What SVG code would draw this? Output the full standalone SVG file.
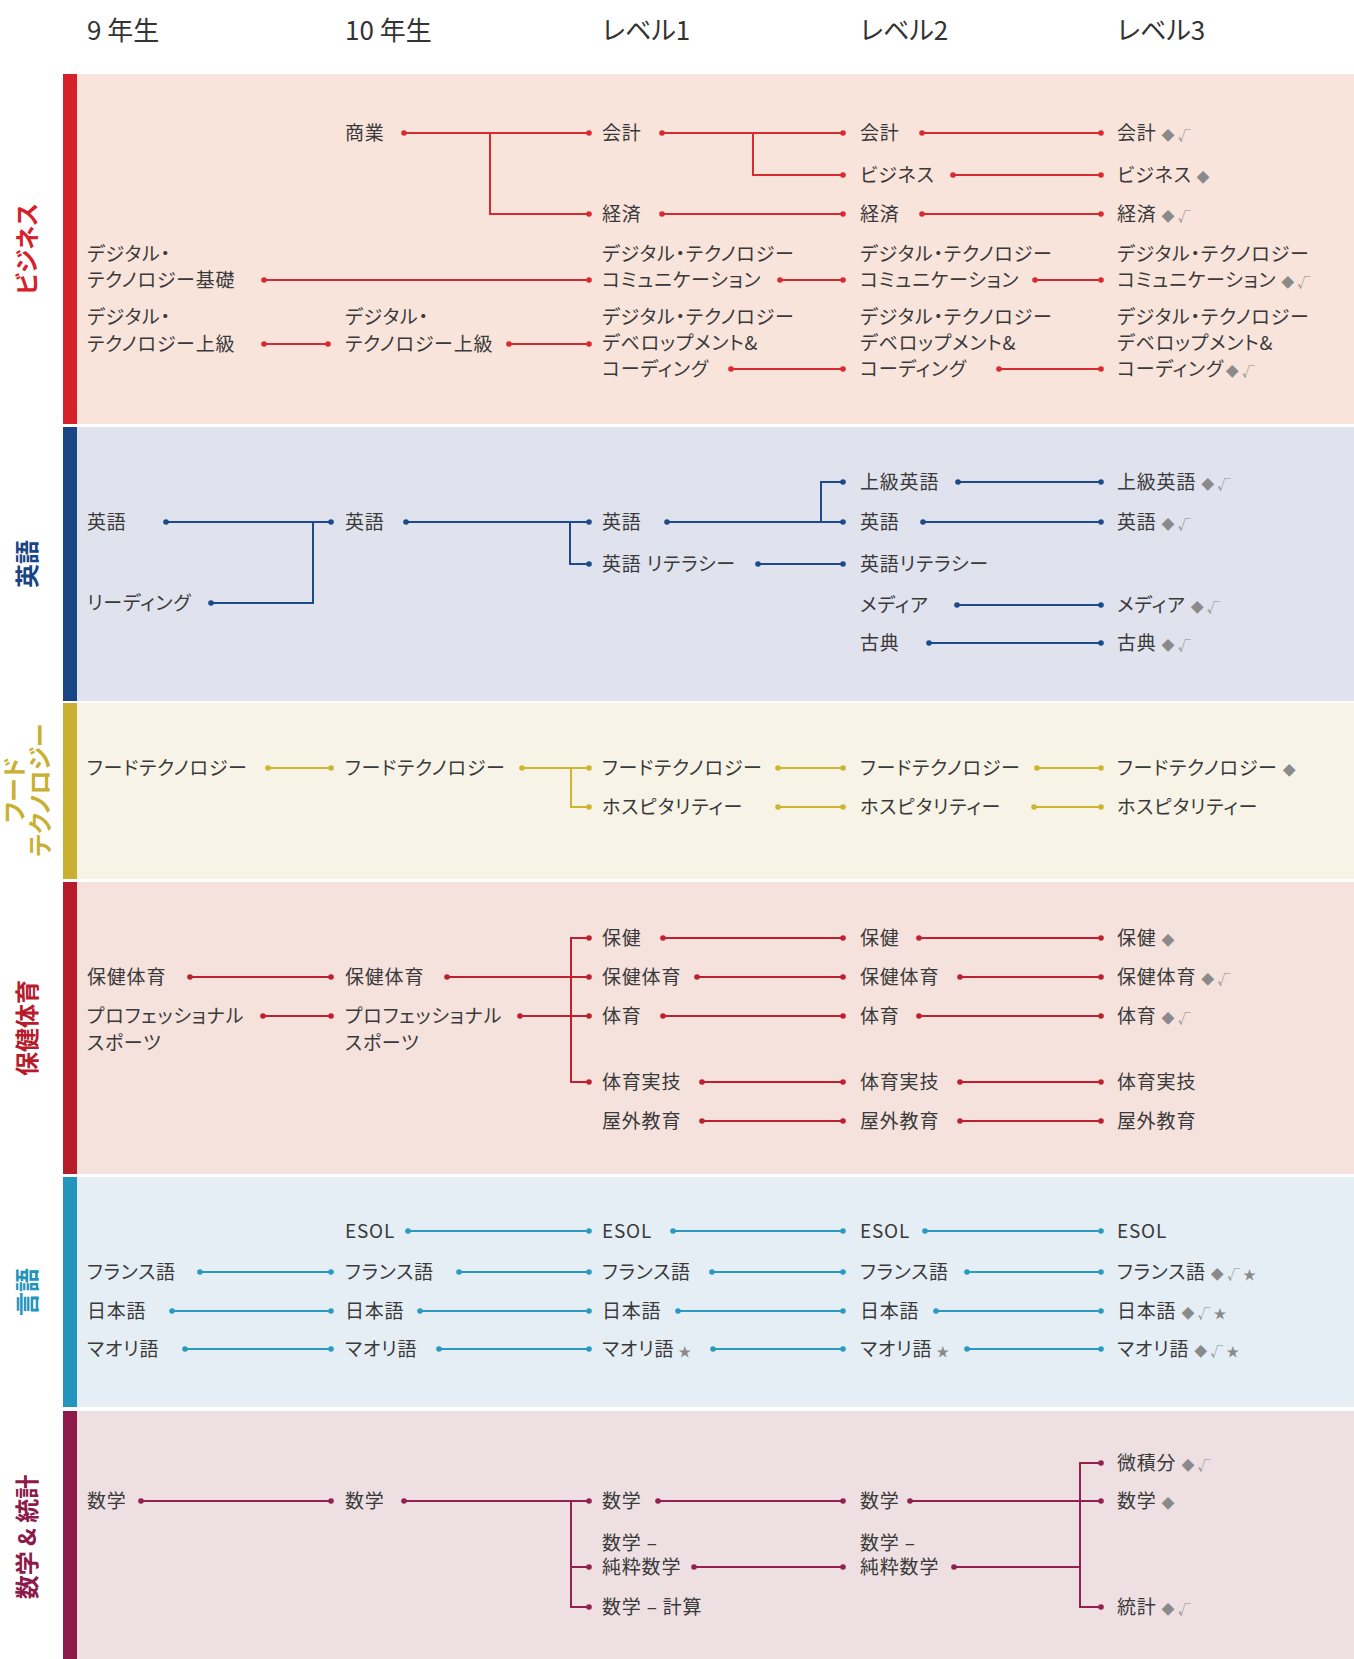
<svg xmlns="http://www.w3.org/2000/svg" width="1354" height="1659" viewBox="0 0 1354 1659">
<style>
text{font-family:"Noto Sans CJK JP","Noto Sans",sans-serif;font-feature-settings:"palt" 1;}
.hd{font-size:26px;fill:#333;}
.t{font-size:19px;fill:#3a3a3a;letter-spacing:0.8px;}
.sym{font-size:13px;fill:#8a8a8a;letter-spacing:0;}
.side{font-size:24px;font-weight:bold;text-anchor:middle;}
.c path{fill:none;stroke-width:2;}
.bz path{stroke:#D82B31;}
.en path{stroke:#1C4A8A;}
.fd path{stroke:#CDB530;}
.hp path{stroke:#BE2030;}
.lg path{stroke:#2A9AC0;}
.mt path{stroke:#93204F;}
.bz .d{marker-start:url(#mbz);marker-end:url(#mbz);} .bz .e{marker-end:url(#mbz);}
.en .d{marker-start:url(#men);marker-end:url(#men);} .en .e{marker-end:url(#men);} .en .s{marker-start:url(#men);}
.fd .d{marker-start:url(#mfd);marker-end:url(#mfd);} .fd .e{marker-end:url(#mfd);}
.hp .d{marker-start:url(#mhp);marker-end:url(#mhp);} .hp .e{marker-end:url(#mhp);}
.lg .d{marker-start:url(#mlg);marker-end:url(#mlg);}
.mt .d{marker-start:url(#mmt);marker-end:url(#mmt);} .mt .e{marker-end:url(#mmt);} .mt .s{marker-start:url(#mmt);}
</style>
<defs>
<marker id="mbz" markerUnits="userSpaceOnUse" markerWidth="8" markerHeight="8" refX="4" refY="4"><circle cx="4" cy="4" r="2.8" fill="#D82B31"/></marker>
<marker id="men" markerUnits="userSpaceOnUse" markerWidth="8" markerHeight="8" refX="4" refY="4"><circle cx="4" cy="4" r="2.8" fill="#1C4A8A"/></marker>
<marker id="mfd" markerUnits="userSpaceOnUse" markerWidth="8" markerHeight="8" refX="4" refY="4"><circle cx="4" cy="4" r="2.8" fill="#CDB530"/></marker>
<marker id="mhp" markerUnits="userSpaceOnUse" markerWidth="8" markerHeight="8" refX="4" refY="4"><circle cx="4" cy="4" r="2.8" fill="#BE2030"/></marker>
<marker id="mlg" markerUnits="userSpaceOnUse" markerWidth="8" markerHeight="8" refX="4" refY="4"><circle cx="4" cy="4" r="2.8" fill="#2A9AC0"/></marker>
<marker id="mmt" markerUnits="userSpaceOnUse" markerWidth="8" markerHeight="8" refX="4" refY="4"><circle cx="4" cy="4" r="2.8" fill="#93204F"/></marker>
</defs>
<rect width="1354" height="1659" fill="#fff"/>

<g id="bands">
<rect x="63" y="74" width="1291" height="350" fill="#F9E4DC"/><rect x="63" y="74" width="14" height="350" fill="#D6202A"/>
<rect x="63" y="427" width="1291" height="274" fill="#E0E2EE"/><rect x="63" y="427" width="14" height="274" fill="#1A4584"/>
<rect x="63" y="703" width="1291" height="176" fill="#F7F4E7"/><rect x="63" y="703" width="14" height="176" fill="#C9AF32"/>
<rect x="63" y="882" width="1291" height="292" fill="#F5E2DD"/><rect x="63" y="882" width="14" height="292" fill="#B71C2C"/>
<rect x="63" y="1177" width="1291" height="230" fill="#E6EEF5"/><rect x="63" y="1177" width="14" height="230" fill="#2394BB"/>
<rect x="63" y="1411" width="1291" height="248" fill="#EDDFE2"/><rect x="63" y="1411" width="14" height="248" fill="#8D1A4B"/>
</g>

<g id="headers">
<text class="hd" x="87" y="40">9 年生</text>
<text class="hd" x="345" y="40">10 年生</text>
<text class="hd" x="602" y="40">レベル1</text>
<text class="hd" x="860" y="40">レベル2</text>
<text class="hd" x="1117" y="40">レベル3</text>
</g>

<g id="side-labels">
<text class="side" fill="#D6202A" transform="translate(36,249) rotate(-90)">ビジネス</text>
<text class="side" fill="#1A4584" transform="translate(36,564) rotate(-90)">英語</text>
<text class="side" fill="#C9AF32" transform="translate(23,790) rotate(-90)">フード</text>
<text class="side" fill="#C9AF32" transform="translate(49,790) rotate(-90)">テクノロジー</text>
<text class="side" fill="#B71C2C" transform="translate(36,1028) rotate(-90)">保健体育</text>
<text class="side" fill="#2394BB" transform="translate(36,1292) rotate(-90)">言語</text>
<text class="side" fill="#8D1A4B" transform="translate(36,1537) rotate(-90)">数学 &amp; 統計</text>
</g>

<g id="connectors" class="c">
<g class="bz">
<path class="d" d="M404,133H589"/><path class="e" d="M490,133V214H589"/>
<path class="d" d="M662,133H843"/><path class="e" d="M753,133V175H843"/>
<path class="d" d="M922,133H1101"/><path class="d" d="M953,175H1101"/>
<path class="d" d="M662,214H843"/><path class="d" d="M922,214H1101"/>
<path class="d" d="M264,280H589"/><path class="d" d="M780,280H843"/><path class="d" d="M1035,280H1101"/>
<path class="d" d="M264,344H328"/><path class="d" d="M509,344H589"/>
<path class="d" d="M731,369H843"/><path class="d" d="M999,369H1101"/>
</g>
<g class="en">
<path class="d" d="M166,522H331"/><path class="s" d="M211,603H313V522"/>
<path class="d" d="M406,522H589"/><path class="e" d="M570,522V564H589"/>
<path class="d" d="M667,522H843"/><path class="e" d="M821,522V482H843"/>
<path class="d" d="M758,564H843"/>
<path class="d" d="M958,482H1101"/><path class="d" d="M923,522H1101"/>
<path class="d" d="M957,605H1101"/><path class="d" d="M929,643H1101"/>
</g>
<g class="fd">
<path class="d" d="M268,768H331"/><path class="d" d="M522,768H589"/><path class="e" d="M571,768V807H589"/>
<path class="d" d="M778,768H843"/><path class="d" d="M1037,768H1101"/>
<path class="d" d="M778,807H843"/><path class="d" d="M1034,807H1101"/>
</g>
<g class="hp">
<path class="d" d="M190,977H331"/><path class="d" d="M447,977H589"/>
<path class="d" d="M263,1016H331"/><path class="d" d="M520,1016H589"/>
<path class="d" d="M589,938H571V1082H589"/>
<path class="d" d="M663,938H843"/><path class="d" d="M697,977H843"/><path class="d" d="M663,1016H843"/>
<path class="d" d="M702,1082H843"/><path class="d" d="M702,1121H843"/>
<path class="d" d="M919,938H1101"/><path class="d" d="M960,977H1101"/><path class="d" d="M919,1016H1101"/>
<path class="d" d="M960,1082H1101"/><path class="d" d="M960,1121H1101"/>
</g>
<g class="lg">
<path class="d" d="M408,1231H589"/><path class="d" d="M673,1231H843"/><path class="d" d="M925,1231H1101"/>
<path class="d" d="M200,1272H331"/><path class="d" d="M459,1272H589"/><path class="d" d="M712,1272H843"/><path class="d" d="M967,1272H1101"/>
<path class="d" d="M172,1311H331"/><path class="d" d="M420,1311H589"/><path class="d" d="M678,1311H843"/><path class="d" d="M936,1311H1101"/>
<path class="d" d="M185,1349H331"/><path class="d" d="M439,1349H589"/><path class="d" d="M713,1349H843"/><path class="d" d="M967,1349H1101"/>
</g>
<g class="mt">
<path class="d" d="M141,1501H331"/><path class="d" d="M404,1501H589"/>
<path class="e" d="M571,1501V1607H589"/><path class="e" d="M571,1567H589"/>
<path class="d" d="M658,1501H843"/><path class="d" d="M694,1567H843"/>
<path class="d" d="M910,1501H1101"/><path class="s" d="M954,1567H1080"/>
<path class="d" d="M1101,1463H1080V1607H1101"/>
</g>
</g>

<g id="nodes-business">
<g id="bz-shougyou"><text class="t" x="345" y="140">商業</text></g>
<g id="bz-kaikei-l1"><text class="t" x="602" y="140">会計</text></g>
<g id="bz-kaikei-l2"><text class="t" x="860" y="140">会計</text></g>
<g id="bz-kaikei-l3"><text class="t" x="1117" y="140">会計<tspan class="sym" dx="5">◆</tspan><tspan class="sym" dx="3">√</tspan></text></g>
<g id="bz-business-l2"><text class="t" x="860" y="182">ビジネス</text></g>
<g id="bz-business-l3"><text class="t" x="1117" y="182">ビジネス<tspan class="sym" dx="5">◆</tspan></text></g>
<g id="bz-keizai-l1"><text class="t" x="602" y="221">経済</text></g>
<g id="bz-keizai-l2"><text class="t" x="860" y="221">経済</text></g>
<g id="bz-keizai-l3"><text class="t" x="1117" y="221">経済<tspan class="sym" dx="5">◆</tspan><tspan class="sym" dx="3">√</tspan></text></g>
<g id="bz-dtbasic-y9"><text class="t" x="87" y="261">デジタル・</text><text class="t" x="87" y="287">テクノロジー基礎</text></g>
<g id="bz-dtcomm-l1"><text class="t" x="602" y="261">デジタル・テクノロジー</text><text class="t" x="602" y="287">コミュニケーション</text></g>
<g id="bz-dtcomm-l2"><text class="t" x="860" y="261">デジタル・テクノロジー</text><text class="t" x="860" y="287">コミュニケーション</text></g>
<g id="bz-dtcomm-l3"><text class="t" x="1117" y="261">デジタル・テクノロジー</text><text class="t" x="1117" y="287">コミュニケーション<tspan class="sym" dx="5">◆</tspan><tspan class="sym" dx="3">√</tspan></text></g>
<g id="bz-dtadv-y9"><text class="t" x="87" y="324">デジタル・</text><text class="t" x="87" y="351">テクノロジー上級</text></g>
<g id="bz-dtadv-y10"><text class="t" x="345" y="324">デジタル・</text><text class="t" x="345" y="351">テクノロジー上級</text></g>
<g id="bz-dtdev-l1"><text class="t" x="602" y="324">デジタル・テクノロジー</text><text class="t" x="602" y="350">デベロップメント&amp;</text><text class="t" x="602" y="376">コーディング</text></g>
<g id="bz-dtdev-l2"><text class="t" x="860" y="324">デジタル・テクノロジー</text><text class="t" x="860" y="350">デベロップメント&amp;</text><text class="t" x="860" y="376">コーディング</text></g>
<g id="bz-dtdev-l3"><text class="t" x="1117" y="324">デジタル・テクノロジー</text><text class="t" x="1117" y="350">デベロップメント&amp;</text><text class="t" x="1117" y="376">コーディング<tspan class="sym" dx="2">◆</tspan><tspan class="sym" dx="3">√</tspan></text></g>
</g>

<g id="nodes-english">
<g id="en-eigo-y9"><text class="t" x="87" y="529">英語</text></g>
<g id="en-reading-y9"><text class="t" x="87" y="610">リーディング</text></g>
<g id="en-eigo-y10"><text class="t" x="345" y="529">英語</text></g>
<g id="en-eigo-l1"><text class="t" x="602" y="529">英語</text></g>
<g id="en-literacy-l1"><text class="t" x="602" y="571">英語 リテラシー</text></g>
<g id="en-adv-l2"><text class="t" x="860" y="489">上級英語</text></g>
<g id="en-eigo-l2"><text class="t" x="860" y="529">英語</text></g>
<g id="en-literacy-l2"><text class="t" x="860" y="571">英語リテラシー</text></g>
<g id="en-media-l2"><text class="t" x="860" y="612">メディア</text></g>
<g id="en-classic-l2"><text class="t" x="860" y="650">古典</text></g>
<g id="en-adv-l3"><text class="t" x="1117" y="489">上級英語<tspan class="sym" dx="5">◆</tspan><tspan class="sym" dx="3">√</tspan></text></g>
<g id="en-eigo-l3"><text class="t" x="1117" y="529">英語<tspan class="sym" dx="5">◆</tspan><tspan class="sym" dx="3">√</tspan></text></g>
<g id="en-media-l3"><text class="t" x="1117" y="612">メディア<tspan class="sym" dx="5">◆</tspan><tspan class="sym" dx="3">√</tspan></text></g>
<g id="en-classic-l3"><text class="t" x="1117" y="650">古典<tspan class="sym" dx="5">◆</tspan><tspan class="sym" dx="3">√</tspan></text></g>
</g>

<g id="nodes-food">
<g id="fd-ft-y9"><text class="t" x="87" y="775">フードテクノロジー</text></g>
<g id="fd-ft-y10"><text class="t" x="345" y="775">フードテクノロジー</text></g>
<g id="fd-ft-l1"><text class="t" x="602" y="775">フードテクノロジー</text></g>
<g id="fd-ft-l2"><text class="t" x="860" y="775">フードテクノロジー</text></g>
<g id="fd-ft-l3"><text class="t" x="1117" y="775">フードテクノロジー<tspan class="sym" dx="5">◆</tspan></text></g>
<g id="fd-hosp-l1"><text class="t" x="602" y="814">ホスピタリティー</text></g>
<g id="fd-hosp-l2"><text class="t" x="860" y="814">ホスピタリティー</text></g>
<g id="fd-hosp-l3"><text class="t" x="1117" y="814">ホスピタリティー</text></g>
</g>

<g id="nodes-health">
<g id="hp-hpe-y9"><text class="t" x="87" y="984">保健体育</text></g>
<g id="hp-pro-y9"><text class="t" x="87" y="1023">プロフェッショナル</text><text class="t" x="87" y="1050">スポーツ</text></g>
<g id="hp-hpe-y10"><text class="t" x="345" y="984">保健体育</text></g>
<g id="hp-pro-y10"><text class="t" x="345" y="1023">プロフェッショナル</text><text class="t" x="345" y="1050">スポーツ</text></g>
<g id="hp-health-l1"><text class="t" x="602" y="945">保健</text></g>
<g id="hp-hpe-l1"><text class="t" x="602" y="984">保健体育</text></g>
<g id="hp-pe-l1"><text class="t" x="602" y="1023">体育</text></g>
<g id="hp-prac-l1"><text class="t" x="602" y="1089">体育実技</text></g>
<g id="hp-outdoor-l1"><text class="t" x="602" y="1128">屋外教育</text></g>
<g id="hp-health-l2"><text class="t" x="860" y="945">保健</text></g>
<g id="hp-hpe-l2"><text class="t" x="860" y="984">保健体育</text></g>
<g id="hp-pe-l2"><text class="t" x="860" y="1023">体育</text></g>
<g id="hp-prac-l2"><text class="t" x="860" y="1089">体育実技</text></g>
<g id="hp-outdoor-l2"><text class="t" x="860" y="1128">屋外教育</text></g>
<g id="hp-health-l3"><text class="t" x="1117" y="945">保健<tspan class="sym" dx="5">◆</tspan></text></g>
<g id="hp-hpe-l3"><text class="t" x="1117" y="984">保健体育<tspan class="sym" dx="5">◆</tspan><tspan class="sym" dx="3">√</tspan></text></g>
<g id="hp-pe-l3"><text class="t" x="1117" y="1023">体育<tspan class="sym" dx="5">◆</tspan><tspan class="sym" dx="3">√</tspan></text></g>
<g id="hp-prac-l3"><text class="t" x="1117" y="1089">体育実技</text></g>
<g id="hp-outdoor-l3"><text class="t" x="1117" y="1128">屋外教育</text></g>
</g>

<g id="nodes-languages">
<g id="lg-esol-y10"><text class="t" x="345" y="1238">ESOL</text></g>
<g id="lg-esol-l1"><text class="t" x="602" y="1238">ESOL</text></g>
<g id="lg-esol-l2"><text class="t" x="860" y="1238">ESOL</text></g>
<g id="lg-esol-l3"><text class="t" x="1117" y="1238">ESOL</text></g>
<g id="lg-fr-y9"><text class="t" x="87" y="1279">フランス語</text></g>
<g id="lg-fr-y10"><text class="t" x="345" y="1279">フランス語</text></g>
<g id="lg-fr-l1"><text class="t" x="602" y="1279">フランス語</text></g>
<g id="lg-fr-l2"><text class="t" x="860" y="1279">フランス語</text></g>
<g id="lg-fr-l3"><text class="t" x="1117" y="1279">フランス語<tspan class="sym" dx="5">◆</tspan><tspan class="sym" dx="3">√</tspan><tspan class="sym" dx="3">★</tspan></text></g>
<g id="lg-jp-y9"><text class="t" x="87" y="1318">日本語</text></g>
<g id="lg-jp-y10"><text class="t" x="345" y="1318">日本語</text></g>
<g id="lg-jp-l1"><text class="t" x="602" y="1318">日本語</text></g>
<g id="lg-jp-l2"><text class="t" x="860" y="1318">日本語</text></g>
<g id="lg-jp-l3"><text class="t" x="1117" y="1318">日本語<tspan class="sym" dx="5">◆</tspan><tspan class="sym" dx="3">√</tspan><tspan class="sym" dx="3">★</tspan></text></g>
<g id="lg-mi-y9"><text class="t" x="87" y="1356">マオリ語</text></g>
<g id="lg-mi-y10"><text class="t" x="345" y="1356">マオリ語</text></g>
<g id="lg-mi-l1"><text class="t" x="602" y="1356">マオリ語<tspan class="sym" dx="4">★</tspan></text></g>
<g id="lg-mi-l2"><text class="t" x="860" y="1356">マオリ語<tspan class="sym" dx="4">★</tspan></text></g>
<g id="lg-mi-l3"><text class="t" x="1117" y="1356">マオリ語<tspan class="sym" dx="5">◆</tspan><tspan class="sym" dx="3">√</tspan><tspan class="sym" dx="3">★</tspan></text></g>
</g>

<g id="nodes-math">
<g id="mt-math-y9"><text class="t" x="87" y="1508">数学</text></g>
<g id="mt-math-y10"><text class="t" x="345" y="1508">数学</text></g>
<g id="mt-math-l1"><text class="t" x="602" y="1508">数学</text></g>
<g id="mt-pure-l1"><text class="t" x="602" y="1550">数学 –</text><text class="t" x="602" y="1574">純粋数学</text></g>
<g id="mt-calc-l1"><text class="t" x="602" y="1614">数学 – 計算</text></g>
<g id="mt-math-l2"><text class="t" x="860" y="1508">数学</text></g>
<g id="mt-pure-l2"><text class="t" x="860" y="1550">数学 –</text><text class="t" x="860" y="1574">純粋数学</text></g>
<g id="mt-calculus-l3"><text class="t" x="1117" y="1470">微積分<tspan class="sym" dx="5">◆</tspan><tspan class="sym" dx="3">√</tspan></text></g>
<g id="mt-math-l3"><text class="t" x="1117" y="1508">数学<tspan class="sym" dx="5">◆</tspan></text></g>
<g id="mt-stats-l3"><text class="t" x="1117" y="1614">統計<tspan class="sym" dx="5">◆</tspan><tspan class="sym" dx="3">√</tspan></text></g>
</g>
</svg>
